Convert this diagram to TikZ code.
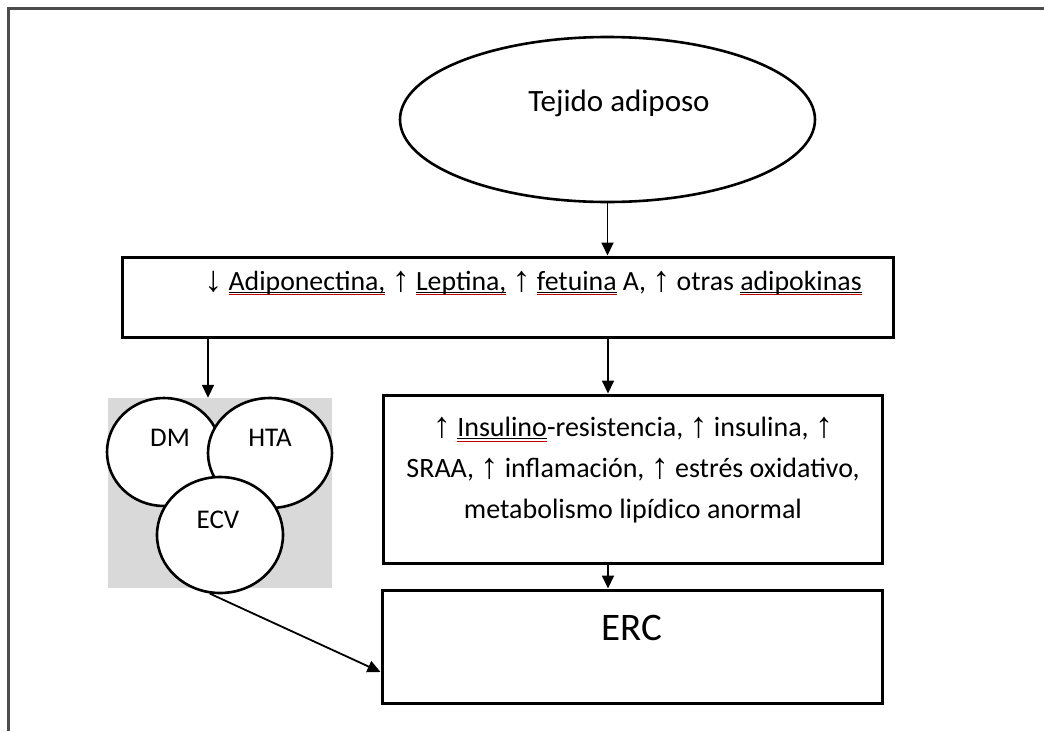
\documentclass[tikz,border=0pt]{standalone}
\usepackage{fontspec}
\setmainfont{Carlito}
\newfontfamily\arrf{Liberation Sans}
\usetikzlibrary{shapes.geometric,arrows.meta}
\newcommand\upar{{\arrf\fontsize{36}{36}\selectfont\raisebox{-1pt}{↑}}}
\newcommand\dnar{{\arrf\fontsize{36}{36}\selectfont\raisebox{-1pt}{↓}}}
\newsavebox\spbox
\newcommand\spell[1]{\sbox\spbox{#1}\rlap{\vrule height -1.8pt depth 2.6pt width \wd\spbox}\rlap{\textcolor{red!75!black}{\vrule height -4.2pt depth 4.9pt width \wd\spbox}}\usebox\spbox}
\tikzset{
  boxnode/.style={draw, line width=3pt, inner sep=0pt, fill=white},
  bubble/.style={ellipse, draw, line width=2.6pt, fill=white, inner sep=0pt},
  txt/.style={inner sep=0pt, font=\fontsize{27.8}{32}\selectfont},
  arr/.style={line width=1.8pt, -{Triangle[length=13pt,width=12pt]}},
}
\begin{document}
\begin{tikzpicture}[x=1pt,y=-1pt]
\useasboundingbox (0,0) rectangle (1044,731);
% frame
\draw[line width=3pt, black!70] (8,731) -- (8,8) -- (1044,8);
% top ellipse
\node[bubble, minimum width=415pt, minimum height=165pt] (tej) at (607.5,119.5) {};
\node[txt, font=\fontsize{31}{36}\selectfont] (tejt) at (619,103) {Tejido adiposo};
% box 1
\node[boxnode, minimum width=771pt, minimum height=80pt] (b1) at (507.5,297) {};
\node[txt] (b1t) at (533,283) {\dnar{} \spell{Adiponectina,} \upar{} \spell{Leptina,} \upar{} \spell{fetuina} A, \upar{} otras \spell{adipokinas}};
% grey group
\node[fill=gray!30, minimum width=224pt, minimum height=190pt, inner sep=0pt] (grp) at (220,493) {};
\node[bubble, minimum width=114pt, minimum height=108pt] (dm) at (164,452) {};
\node[bubble, minimum width=124pt, minimum height=110pt] (hta) at (270,453) {};
\node[bubble, minimum width=126pt, minimum height=116pt] (ecv) at (220,535) {};
\node[txt, font=\fontsize{27}{30}\selectfont] (dmt) at (170,438) {DM};
\node[txt, font=\fontsize{27}{30}\selectfont] (htat) at (270,438) {HTA};
\node[txt, font=\fontsize{27}{30}\selectfont] (ecvt) at (218,520) {ECV};
% box 2
\node[boxnode, minimum width=499pt, minimum height=168pt] (b2) at (632.5,479) {};
\node[txt, align=center, font=\fontsize{28}{41}\selectfont] (b2t) at (633,470) {\upar{} \spell{Insulino}-resistencia, \upar{} insulina, \upar{}\\ SRAA, \upar{} inflamación, \upar{} estrés oxidativo,\\ metabolismo lipídico anormal};
% ERC box
\node[boxnode, minimum width=500pt, minimum height=113pt] (erc) at (632,646.5) {};
\node[txt, font=\fontsize{39}{44}\selectfont] (erct) at (632,628) {ERC};
% connectors
\coordinate (lx) at (208,0);
\coordinate (mx) at (608,0);
\coordinate (ein) at (382,672);
\draw[arr] (tej.south) -- (b1.north -| tej.south);
\draw[arr] (b1.south -| lx) -- (grp.north -| lx);
\draw[arr] (b1.south -| mx) -- (b2.north -| mx);
\draw[arr] (b2.south -| mx) -- (erc.north -| mx);
\draw[arr] (ecv.-100) -- (erc.west |- ein);
\end{tikzpicture}
\end{document}
